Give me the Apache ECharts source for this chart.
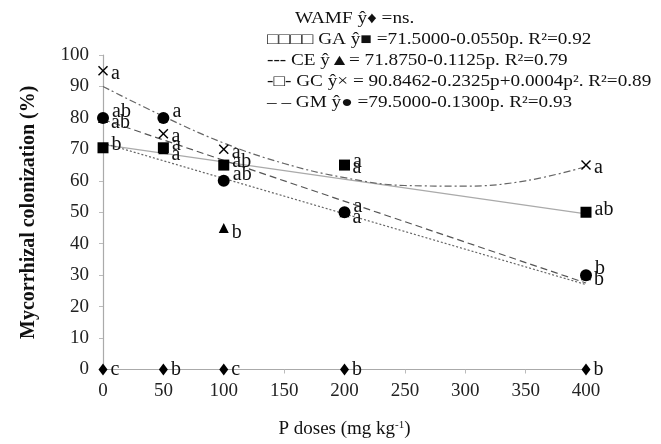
<!DOCTYPE html>
<html>
<head>
<meta charset="utf-8">
<script src="https://cdn.jsdelivr.net/npm/echarts@6/dist/echarts.min.js"></script>
<style>
html, body { margin: 0; background: #fff; }
#chart { width: 661px; height: 444px; }
</style>
</head>
<body>
<div id="chart"></div>
<script>
// P doses (mg kg-1)
var doses = [0, 50, 100, 200, 400];
var xTicks = [0, 50, 100, 150, 200, 250, 300, 350, 400];

// colonization (%) per treatment, with Tukey letters
var wamf = [0, 0, 0, 0, 0];
var wamfLetters = ['c', 'b', 'c', 'b', 'b'];
var ga = [70.5, 70.5, 65, 65, 50];
var gaLetters = ['b', 'a', 'ab', 'a', 'ab'];
var ce = [80, 70, 45, 50, 30];
var ceLetters = ['ab', 'a', 'b', 'a', 'b'];
var gc = [95, 75, 70, 65, 65];
var gcLetters = ['a', 'a', 'a', 'a', 'a'];
var gm = [80, 80, 60, 50, 30];
var gmLetters = ['ab', 'a', 'ab', 'a', 'b'];

// fitted curves
var fitX = [0, 400];
var gaFit = [71.5, 49.5];
var ceFit = [72, 27];
var gmFit = [79.5, 27.5];
var gcFitX = [0, 50, 100, 150, 200, 250, 300, 350, 400];
var gcFit = [90, 80.5, 72, 65.5, 61, 58.5, 58.3, 60, 64.5];

// legend lines
var legendLines = [
  'WAMF ŷ♦ =ns.',
  '□□□□ GA ŷ■ =71.5000-0.0550p. R²=0.92',
  '--- CE ŷ▲= 71.8750-0.1125p. R²=0.79',
  '-□- GC ŷ× = 90.8462-0.2325p+0.0004p². R²=0.89',
  '– – GM ŷ● =79.5000-0.1300p. R²=0.93'
];

var serif = '"Liberation Serif", "Times New Roman", serif';
var cross = 'path://M0,1L1,0L5,4L9,0L10,1L6,5L10,9L9,10L5,6L1,10L0,9L4,5Z';

function pairs(xs, ys) {
  return xs.map(function (x, i) { return [x, ys[i]]; });
}

function fitLine(xs, ys, color, type, smooth) {
  return {
    type: 'line', data: pairs(xs, ys), smooth: smooth || false,
    symbol: 'none', silent: true, z: 1,
    lineStyle: { color: color, width: 1.2, type: type }
  };
}

function points(ys, letters, symbol, size, offset, z) {
  return {
    type: 'scatter', data: pairs(doses, ys), symbol: symbol, symbolSize: size,
    clip: false, z: z,
    itemStyle: { color: '#000', opacity: 1 },
    label: {
      show: true, position: 'right', distance: 3, offset: offset,
      color: '#111', fontFamily: serif, fontSize: 20,
      formatter: function (p) { return letters[p.dataIndex]; }
    }
  };
}

var chart = echarts.init(document.getElementById('chart'));

chart.setOption({
  animation: false,
  grid: { left: 103, right: 75, top: 55, bottom: 73 },
  xAxis: {
    type: 'value', min: 0, max: 400, interval: 50,
    name: 'P doses (mg kg{sup|-1})', nameLocation: 'middle', nameGap: 50,
    nameTextStyle: {
      color: '#111', fontFamily: serif, fontSize: 19,
      rich: { sup: { fontSize: 11, verticalAlign: 'top', padding: [0, 0, 9, 0], fontFamily: serif, color: '#111' } }
    },
    axisLine: { lineStyle: { color: '#aaa', width: 1.2 } },
    axisTick: { lineStyle: { color: '#bbb' }, length: 4 },
    axisLabel: { color: '#222', fontFamily: serif, fontSize: 19, margin: 12,
      formatter: function (v) { return xTicks.indexOf(v) >= 0 ? v : ''; } },
    splitLine: { show: false }
  },
  yAxis: {
    type: 'value', min: 0, max: 100, interval: 10,
    name: 'Mycorrhizal colonization (%)', nameLocation: 'middle', nameGap: 64,
    nameTextStyle: { color: '#111', fontFamily: serif, fontSize: 20, fontWeight: 'bold' },
    axisLine: { show: true, lineStyle: { color: '#aaa', width: 1.2 } },
    axisTick: { show: true, lineStyle: { color: '#bbb' }, length: 4 },
    axisLabel: { color: '#222', fontFamily: serif, fontSize: 19, margin: 14 },
    splitLine: { show: false }
  },
  graphic: legendLines.map(function (t, i) {
    return {
      type: 'text', x: i === 0 ? 295 : 267, y: 11 + i * 21, scaleX: 1.2,
      style: { text: t, fill: '#111', font: '16px ' + serif }
    };
  }),
  series: [
    fitLine(fitX, gaFit, '#aaa', 'solid'),
    fitLine(fitX, ceFit, '#666', [2, 2]),
    fitLine(fitX, gmFit, '#555', [7, 4]),
    fitLine(gcFitX, gcFit, '#666', [7, 3, 2, 3], 0.4),
    points(ce, ceLetters, 'triangle', 10, [0, 5], 2),
    points(gc, gcLetters, cross, 10, [0, 3], 2),
    points(ga, gaLetters, 'rect', 11, [0, -3], 3),
    points(gm, gmLetters, 'circle', 12, [0, -6], 4),
    points(wamf, wamfLetters, 'diamond', [9, 12], [0, 0], 4)
  ]
});
</script>
</body>
</html>
